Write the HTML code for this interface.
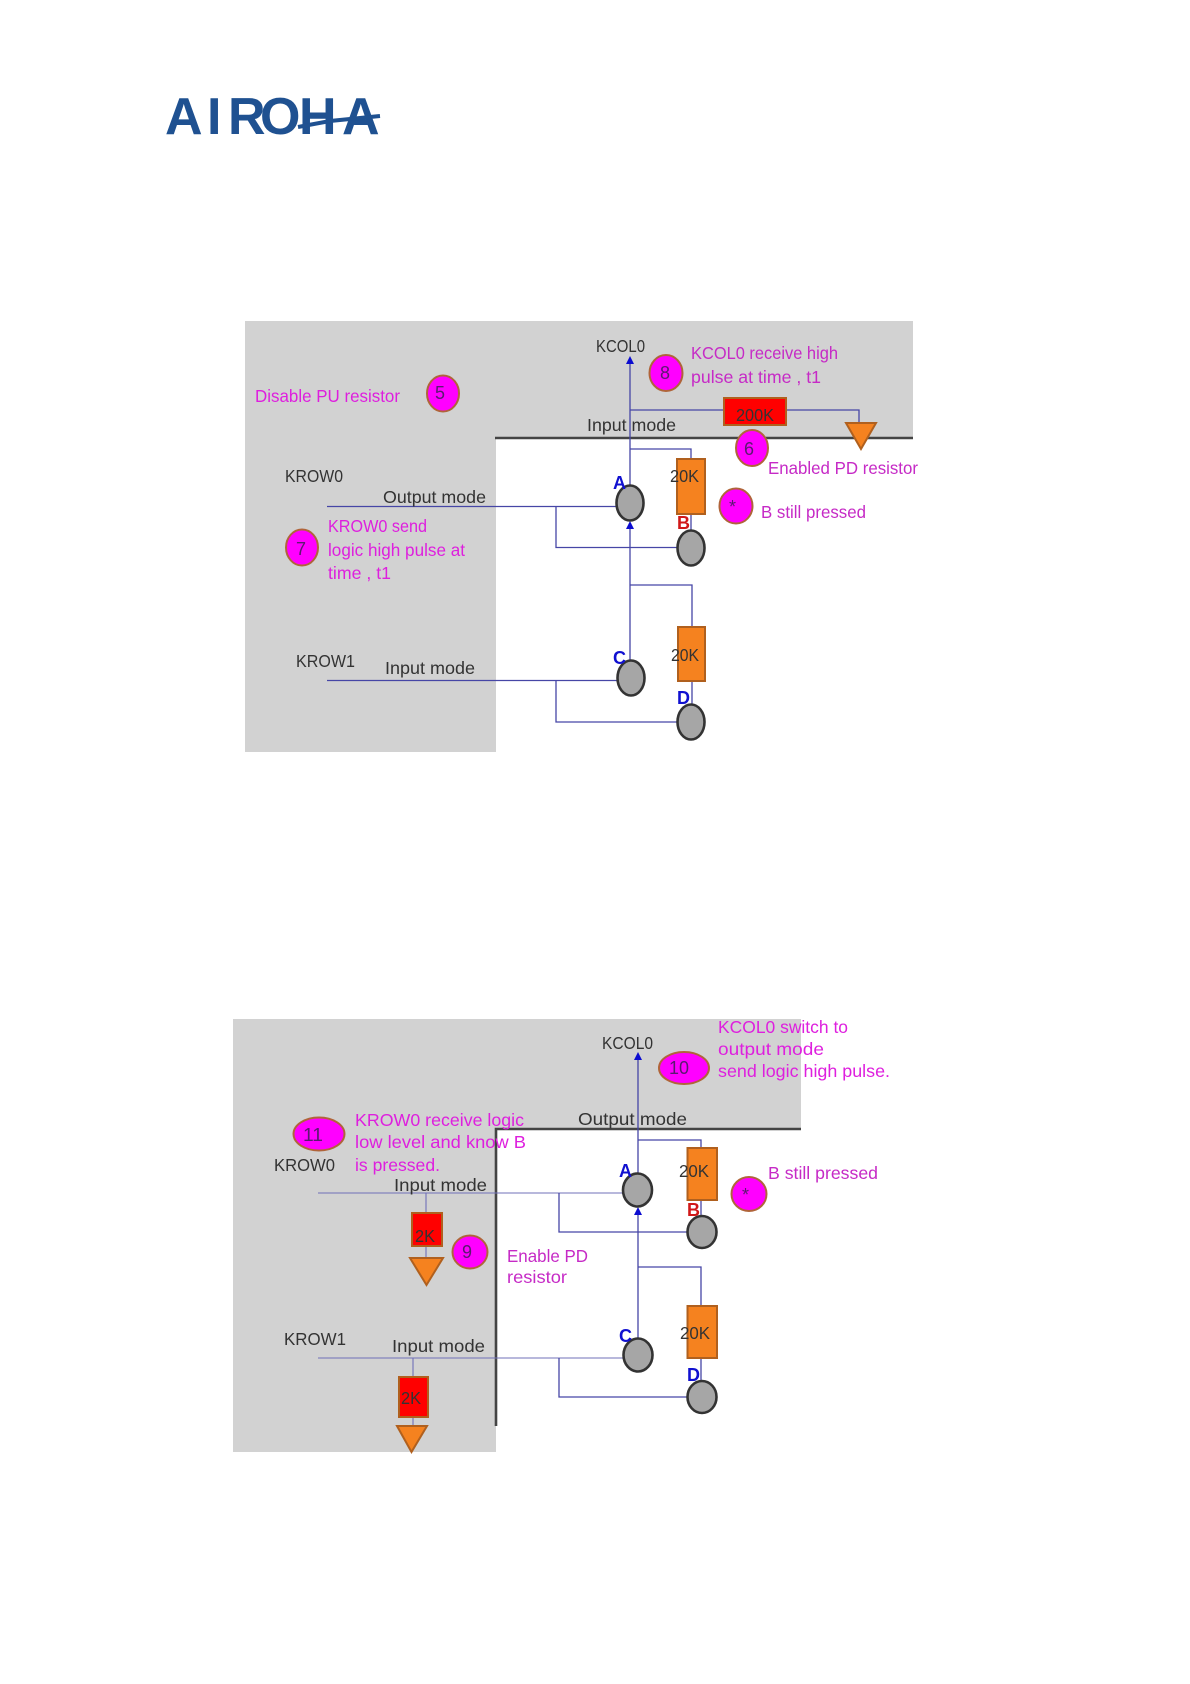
<!DOCTYPE html>
<html>
<head>
<meta charset="utf-8">
<style>
html,body{margin:0;padding:0;background:#fff;width:1190px;height:1684px;overflow:hidden}
svg{display:block}
text{font-family:"Liberation Sans",sans-serif;font-size:17.5px;fill:#333}
.p{fill:#de1fde}
.q{fill:#c62ac6}
.b{font-weight:bold;fill:#1010d0;font-size:18px}
.r{font-weight:bold;fill:#d01818;font-size:18px}
.n{fill:#5a1a70;font-size:18px}
.l{stroke:#4646a6;stroke-width:1.3;fill:none}
.t{stroke:#7070b8;stroke-width:1.1;fill:none}
.m{fill:#f0f;stroke:#b0643a;stroke-width:2}
.g{fill:#a6a6a6;stroke:#333;stroke-width:2.6}
.o{fill:#f5821f;stroke:#b0601e;stroke-width:2}
.d{fill:#f00;stroke:#b0601e;stroke-width:2}
.a{fill:#0c0cd0}
.k{stroke:#444;fill:none}
</style>
</head>
<body>
<svg width="1190" height="1684" viewBox="0 0 1190 1684" xmlns="http://www.w3.org/2000/svg">
<!-- logo -->
<text x="165 207 228 260 299 342" y="134" style="font-size:52px;font-weight:bold;fill:#1f5191">AIROHA</text>
<path d="M298 127 L330 121 L380 116" stroke="#1f5191" stroke-width="4" fill="none"/>

<!-- DIAGRAM 1 -->
<path d="M245 321H913V438H496V752H245Z" fill="#d2d2d2"/>
<path class="k" stroke-width="2.4" d="M495 438H913"/>

<path class="l" d="M327 506.500H617M556 506.500V547.500H678"/>
<path class="l" d="M327 680.500H618M556 680.500V722H678"/>
<path class="l" d="M630 360V486M630 525V662M630 410H724M786 410H859V423M630 449H691V459M691 514V531"/>
<path class="l" d="M630 585H692V627M692 681V705"/>
<path class="a" d="M630 356l-4 8h8zM630 521l-4 8h8z"/>

<rect class="d" x="724" y="398" width="62" height="27"/>
<path class="o" d="M846 423H876L861 449Z"/>
<rect class="o" x="677" y="459" width="28" height="55"/>
<rect class="o" x="678" y="627" width="27" height="54"/>
<ellipse class="g" cx="630" cy="503" rx="13.500" ry="17.500"/>
<ellipse class="g" cx="691" cy="548" rx="13.500" ry="17.500"/>
<ellipse class="g" cx="631" cy="678" rx="13.500" ry="17.500"/>
<ellipse class="g" cx="691" cy="722" rx="13.500" ry="17.500"/>

<ellipse class="m" cx="443" cy="393.500" rx="16" ry="18"/>
<ellipse class="m" cx="302" cy="547.500" rx="16" ry="18"/>
<ellipse class="m" cx="666" cy="373" rx="16.500" ry="18"/>
<ellipse class="m" cx="752" cy="448" rx="16" ry="18"/>
<ellipse class="m" cx="736" cy="506" rx="16.500" ry="17.500"/>

<text class="n" x="435" y="399">5</text>
<text class="n" x="296" y="555">7</text>
<text class="n" x="660" y="379">8</text>
<text class="n" x="744" y="455">6</text>
<text class="n" x="729" y="513">*</text>

<text class="p" x="255" y="402" textLength="145" lengthAdjust="spacingAndGlyphs">Disable PU resistor</text>
<text class="p" x="328" y="532" textLength="99" lengthAdjust="spacingAndGlyphs">KROW0 send</text>
<text class="p" x="328" y="556" textLength="137" lengthAdjust="spacingAndGlyphs">logic high pulse at</text>
<text class="p" x="328" y="579" textLength="63" lengthAdjust="spacingAndGlyphs">time , t1</text>
<text class="q" x="691" y="359" textLength="147" lengthAdjust="spacingAndGlyphs">KCOL0 receive high</text>
<text class="q" x="691" y="383" textLength="130" lengthAdjust="spacingAndGlyphs">pulse at time , t1</text>
<text class="q" x="768" y="474" textLength="150" lengthAdjust="spacingAndGlyphs">Enabled PD resistor</text>
<text class="q" x="761" y="518" textLength="105" lengthAdjust="spacingAndGlyphs">B still pressed</text>

<text x="285" y="482" textLength="58" lengthAdjust="spacingAndGlyphs">KROW0</text>
<text x="383" y="503" textLength="103" lengthAdjust="spacingAndGlyphs">Output mode</text>
<text x="296" y="667" textLength="59" lengthAdjust="spacingAndGlyphs">KROW1</text>
<text x="385" y="674" textLength="90" lengthAdjust="spacingAndGlyphs">Input mode</text>
<text x="596" y="352" textLength="49" lengthAdjust="spacingAndGlyphs">KCOL0</text>
<text x="587" y="431" textLength="89" lengthAdjust="spacingAndGlyphs">Input mode</text>
<text x="736" y="421" textLength="38" lengthAdjust="spacingAndGlyphs">200K</text>
<text x="670" y="482" textLength="29" lengthAdjust="spacingAndGlyphs">20K</text>
<text x="671" y="661" textLength="28" lengthAdjust="spacingAndGlyphs">20K</text>
<text class="b" x="613" y="489">A</text>
<text class="r" x="677" y="529">B</text>
<text class="b" x="613" y="664">C</text>
<text class="b" x="677" y="704">D</text>

<!-- DIAGRAM 2 -->
<path d="M233 1019H801V1129H496V1452H233Z" fill="#d2d2d2"/>
<path class="k" stroke-width="2.6" d="M801 1129H496V1426"/>

<path class="t" d="M318 1193H623M426 1193V1259M318 1358H624M413 1358V1427"/>
<path class="l" d="M559 1193V1232H688M559 1358V1397H688"/>
<path class="l" d="M638 1056V1174M638 1210V1338M638 1140H701V1149M701 1200V1216M638 1267H701V1307M701 1358V1381"/>
<path class="a" d="M638 1052l-4 8h8zM638 1207l-4 8h8z"/>

<rect class="d" x="412" y="1213" width="30" height="33"/>
<path class="o" d="M410 1258H443L426.500 1285Z"/>
<rect class="d" x="399" y="1377" width="29" height="40"/>
<path class="o" d="M397 1426H427L411.500 1452Z"/>
<rect class="o" x="687.500" y="1148" width="29.500" height="52"/>
<rect class="o" x="687.500" y="1306" width="29.500" height="52"/>
<ellipse class="g" cx="637.500" cy="1190" rx="14.500" ry="16.500"/>
<ellipse class="g" cx="702" cy="1232" rx="14.500" ry="16"/>
<ellipse class="g" cx="638" cy="1355" rx="14.500" ry="16.500"/>
<ellipse class="g" cx="702" cy="1397" rx="14.500" ry="16"/>

<ellipse class="m" cx="319" cy="1134" rx="25.500" ry="16.500"/>
<ellipse class="m" cx="684" cy="1068" rx="25" ry="16"/>
<ellipse class="m" cx="470" cy="1252" rx="17.500" ry="16.500"/>
<ellipse class="m" cx="749" cy="1194" rx="17.500" ry="17"/>

<text class="n" x="303" y="1141" textLength="20" lengthAdjust="spacingAndGlyphs">11</text>
<text class="n" x="669" y="1074" textLength="20" lengthAdjust="spacingAndGlyphs">10</text>
<text class="n" x="462" y="1258">9</text>
<text class="n" x="742" y="1201">*</text>

<text class="p" x="355" y="1126" textLength="169" lengthAdjust="spacingAndGlyphs">KROW0 receive logic</text>
<text class="p" x="355" y="1148" textLength="171" lengthAdjust="spacingAndGlyphs">low level and know B</text>
<text class="p" x="355" y="1171" textLength="85" lengthAdjust="spacingAndGlyphs">is pressed.</text>
<text class="q" x="507" y="1262" textLength="81" lengthAdjust="spacingAndGlyphs">Enable PD</text>
<text class="q" x="507" y="1283" textLength="60" lengthAdjust="spacingAndGlyphs">resistor</text>
<text class="p" x="718" y="1033" textLength="130" lengthAdjust="spacingAndGlyphs">KCOL0 switch to</text>
<text class="p" x="718" y="1055" textLength="106" lengthAdjust="spacingAndGlyphs">output mode</text>
<text class="p" x="718" y="1077" textLength="172" lengthAdjust="spacingAndGlyphs">send logic high pulse.</text>
<text class="q" x="768" y="1179" textLength="110" lengthAdjust="spacingAndGlyphs">B still pressed</text>

<text x="274" y="1171" textLength="61" lengthAdjust="spacingAndGlyphs">KROW0</text>
<text x="394" y="1191" textLength="93" lengthAdjust="spacingAndGlyphs">Input mode</text>
<text x="284" y="1345" textLength="62" lengthAdjust="spacingAndGlyphs">KROW1</text>
<text x="392" y="1352" textLength="93" lengthAdjust="spacingAndGlyphs">Input mode</text>
<text x="602" y="1049" textLength="51" lengthAdjust="spacingAndGlyphs">KCOL0</text>
<text x="578" y="1125" textLength="109" lengthAdjust="spacingAndGlyphs">Output mode</text>
<text x="415" y="1242" textLength="20" lengthAdjust="spacingAndGlyphs">2K</text>
<text x="401" y="1404" textLength="20" lengthAdjust="spacingAndGlyphs">2K</text>
<text x="679" y="1177" textLength="30" lengthAdjust="spacingAndGlyphs">20K</text>
<text x="680" y="1339" textLength="30" lengthAdjust="spacingAndGlyphs">20K</text>
<text class="b" x="619" y="1177">A</text>
<text class="r" x="687" y="1216">B</text>
<text class="b" x="619" y="1342">C</text>
<text class="b" x="687" y="1381">D</text>
</svg>
</body>
</html>
